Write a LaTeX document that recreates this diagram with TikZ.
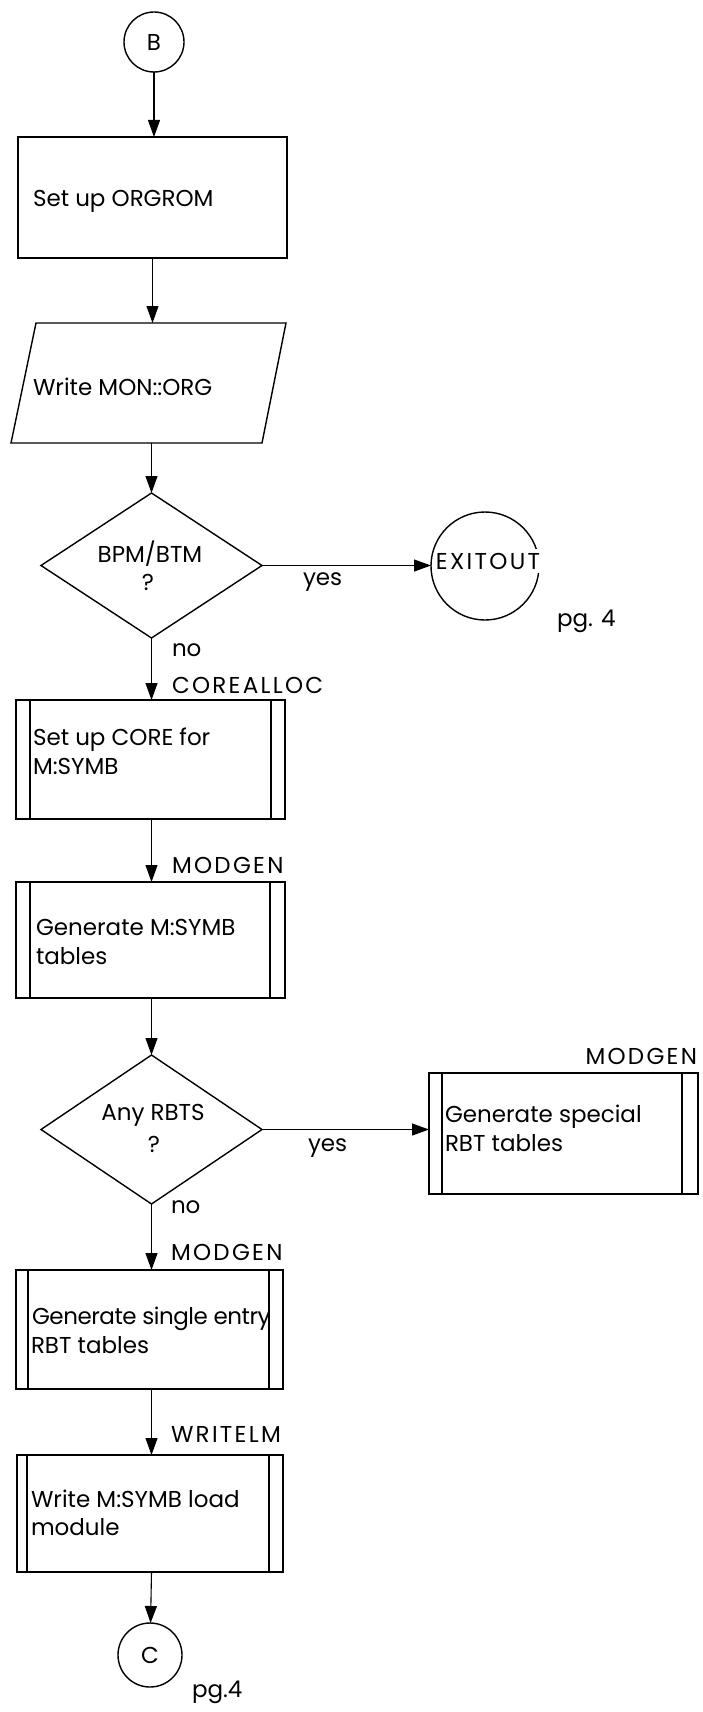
\documentclass[tikz,border=0pt]{standalone}
\usepackage{fontspec}
\setmainfont{Poppins}
\usetikzlibrary{shapes.geometric,arrows.meta,calc}
\begin{document}
\begin{tikzpicture}[x=1pt,y=-1pt,
  every node/.style={font=\fontsize{23}{29}\selectfont, inner sep=0pt, outer sep=0pt},
  shp/.style={draw, line width=1.4pt},
  procbox/.style={shp, rectangle},
  predef/.style 2 args={shp, rectangle, path picture={
     \draw[line width=1.3pt] ([xshift=#1]path picture bounding box.north west) -- ([xshift=#1]path picture bounding box.south west);
     \draw[line width=1.3pt] ([xshift=-#2]path picture bounding box.north east) -- ([xshift=-#2]path picture bounding box.south east);}},
  decision/.style={shp, diamond, minimum width=221pt},
  conn/.style={shp, circle},
  arr/.style={line width=1.1pt, -{Triangle[length=17pt,width=12pt]}},
  txt/.style={anchor=base west},
  ctxt/.style={anchor=base},
  caps/.style={font=\fontsize{23}{29}\selectfont\addfontfeature{LetterSpace=10}},
  tight/.style={font=\fontsize{23}{29}\selectfont\addfontfeature{LetterSpace=-2}},
]
\fill[white] (0,0) rectangle (702,1712);
\useasboundingbox (0,0) rectangle (702,1712);

% B connector and first box
\node[conn, minimum size=60pt] (B) at (154,42) {B};
\node[procbox, minimum width=269pt, minimum height=121pt] (box1) at (152.5,197.5) {};
\node[txt] (t1) at (33,207) {Set up ORGROM};

% output parallelogram
\coordinate (paraN) at (152.5,323);
\coordinate (paraS) at (151.5,443);
\draw[shp] (36,323) -- (286,323) -- (262,443) -- (11,443) -- cycle;
\node[txt] (t2) at (33,395) {Write MON::ORG};

% decision 1
\node[decision, minimum height=145pt] (d1) at (151.5,565.5) {};
\node[ctxt] (t3a) at (150,562) {BPM/BTM};
\node[ctxt] (t3b) at (148,590) {?};
\node[conn, minimum size=108pt] (exit) at (485,566) {};
\node[ctxt, caps, fill=white, inner xsep=1pt, inner ysep=4pt] (t4) at (488,569) {EXITOUT};
\node[txt] (pg1) at (557,626) {pg. 4};
\node[txt] (yes1) at (303,585) {yes};
\node[txt] (no1) at (172,656) {no};
\node[txt, caps] (lab1) at (172,693) {COREALLOC};

% box 2
\node[predef={14pt}{14pt}, minimum width=269pt, minimum height=119pt] (b2) at (150.5,759.5) {};
\node[txt] (t5a) at (33,745) {Set up CORE for};
\node[txt] (t5b) at (33,774) {M:SYMB};
\node[txt, caps] (lab2) at (172,873) {MODGEN};

% box 3
\node[predef={14pt}{15pt}, minimum width=269pt, minimum height=116pt] (b3) at (150.5,940) {};
\node[txt] (t6a) at (36,935) {Generate M:SYMB};
\node[txt] (t6b) at (36,964) {tables};

% decision 2
\node[decision, minimum height=149pt] (d2) at (151.5,1129.5) {};
\node[ctxt] (t7a) at (153,1120) {Any RBTS};
\node[ctxt] (t7b) at (154,1152) {?};
\node[txt] (yes2) at (308,1151) {yes};
\node[txt] (no2) at (171,1213) {no};
\node[txt, caps] (lab3) at (171,1260) {MODGEN};

% box 5 (right)
\node[predef={13pt}{16pt}, minimum width=269pt, minimum height=121pt] (b5) at (563.5,1133.5) {};
\node[anchor=base east, caps] (lab4) at (697,1064) {MODGEN};
\node[txt] (t8a) at (445,1122) {Generate special};
\node[txt] (t8b) at (445,1151) {RBT tables};

% box 4
\node[predef={12pt}{14pt}, minimum width=267pt, minimum height=119pt] (b4) at (149.5,1329.5) {};
\node[txt, tight] (t9a) at (32,1324) {Generate single entry};
\node[txt] (t9b) at (31,1353) {RBT tables};
\node[txt, caps] (lab5) at (171,1442) {WRITELM};

% box 6
\node[predef={10pt}{14pt}, minimum width=266pt, minimum height=117pt] (b6) at (150,1513.5) {};
\node[txt] (t10a) at (31,1507) {Write M:SYMB load};
\node[txt] (t10b) at (31,1535) {module};

% C connector
\node[conn, minimum size=64pt] (C) at (150,1655) {C};
\node[txt] (pg2) at (192,1697) {pg.4};

% connectors
\draw[arr] (B) -- (B |- box1.north);
\draw[arr] (box1.south) -- (paraN);
\draw[arr] (paraS) -- (d1.north);
\draw[arr] (d1.east) -- (d1.east -| exit.west);
\draw[arr] (d1.south) -- (d1.south |- b2.north);
\draw[arr] (d1.south |- b2.south) -- (d1.south |- b3.north);
\draw[arr] (d1.south |- b3.south) -- (d2.north);
\draw[arr] (d2.east) -- (d2.east -| b5.west);
\draw[arr] (d2.south) -- (d2.south |- b4.north);
\draw[arr] (d2.south |- b4.south) -- (d2.south |- b6.north);
\draw[arr] (d2.south |- b6.south) -- (C);
\end{tikzpicture}
\end{document}
